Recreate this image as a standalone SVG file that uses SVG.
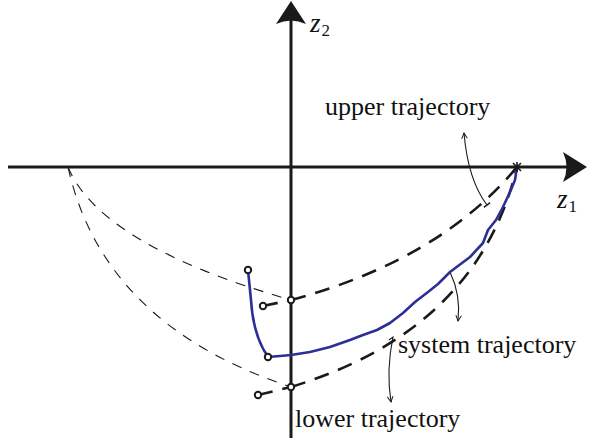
<svg xmlns="http://www.w3.org/2000/svg" width="589" height="440" viewBox="0 0 589 440">
<defs>
<style>
.axis{stroke:#1a1a1a;stroke-width:3;fill:none}
.head{fill:#1a1a1a;stroke:none}
.thick{stroke:#1a1a1a;stroke-width:2.6;fill:none;stroke-dasharray:15 10}
.thin{stroke:#1a1a1a;stroke-width:1.1;fill:none;stroke-dasharray:10 9}
.sys{stroke:#2c2f96;stroke-width:2.6;fill:none;stroke-linejoin:round;stroke-linecap:round}
.pt{fill:#fff;stroke:#1a1a1a;stroke-width:2}
.ann{stroke:#1a1a1a;stroke-width:1.1;fill:none}
.lbl{font-size:26px;fill:#111}
.var{font-size:27px;font-style:italic;fill:#111}
.sub{font-size:17px;font-style:normal;fill:#111}
</style>
<marker id="tip" viewBox="0 0 10 10" refX="9" refY="5" markerWidth="7" markerHeight="7" orient="auto" markerUnits="userSpaceOnUse">
<path d="M1,1 L9,5 L1,9" fill="none" stroke="#1a1a1a" stroke-width="1.4"/>
</marker>
<marker id="tee" viewBox="0 0 10 10" refX="5" refY="5" markerWidth="8" markerHeight="8" orient="auto" markerUnits="userSpaceOnUse">
<path d="M5,0 L5,10" fill="none" stroke="#1a1a1a" stroke-width="1.8"/>
</marker>
</defs>

<g id="axes">
<line class="axis" x1="8" y1="167" x2="572" y2="167"/>
<path class="head" d="M587,167 L563,152 Q570,167 563,182 Z"/>
<line class="axis" x1="291" y1="438" x2="291" y2="16"/>
<path class="head" d="M291,1 L276,24 Q291,17 306,24 Z"/>
</g>

<g id="connectors">
<path class="thin" d="M68,167 Q100,245 291,300"/>
<path class="thin" d="M68,167 Q103,325 291,387"/>
<path class="thick" d="M263,306 L291,300"/>
<path class="thick" d="M291,300 Q440,260 517,167"/>
<path class="thick" d="M258,395 L291,387"/>
<path class="thick" d="M291,387 C385,358 485,300 517,167"/>
<path class="ann" d="M487,205 Q468,180 464,133" marker-start="url(#tee)" marker-end="url(#tip)"/>
<path class="ann" d="M450,272 Q461,295 458,321" marker-end="url(#tip)"/>
<path class="ann" d="M389,340 L393,337 Q386,370 391,402" marker-end="url(#tip)"/>
</g>

<g id="system-trajectory">
<path class="sys" d="M248,270 L251,300 Q253,335 268,357 L280,356 L291,355 L310,352 L330,347 L350,340 L363,335 L377,330 L390,323 L403,313 L415,302 L428,292 L438,284 L450,272 L470,257 L483,243 L488,230 L496,220 L503,207 L510,192 L515,180 L517,167"/>
</g>

<g id="points">
<circle class="pt" cx="248" cy="270" r="3.2"/>
<circle class="pt" cx="268" cy="357" r="3.2"/>
<circle class="pt" cx="263" cy="306" r="3.2"/>
<circle class="pt" cx="291" cy="300" r="3.2"/>
<circle class="pt" cx="291" cy="387" r="3.2"/>
<circle class="pt" cx="258" cy="395" r="3.2"/>
<path d="M513,163 L521,171 M521,163 L513,171 M517,162 L517,172" stroke="#1a1a1a" stroke-width="1.6"/>
</g>

<g id="labels" font-family="Liberation Serif, serif">
<text class="var" x="310" y="32" font-family="Liberation Serif, serif">z<tspan class="sub" dx="1" dy="4">2</tspan></text>
<text class="var" x="557" y="208" font-family="Liberation Serif, serif">z<tspan class="sub" dx="1" dy="4">1</tspan></text>
<text id="upper-label" class="lbl" x="325" y="115" font-family="Liberation Serif, serif">upper trajectory</text>
<text id="system-label" class="lbl" x="398" y="353" font-family="Liberation Serif, serif">system trajectory</text>
<text id="lower-label" class="lbl" x="295" y="427" font-family="Liberation Serif, serif">lower trajectory</text>
</g>
</svg>
